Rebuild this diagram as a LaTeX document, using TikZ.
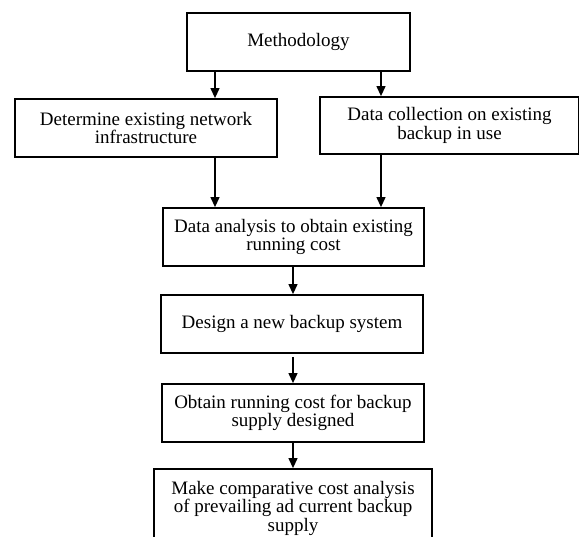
\documentclass[tikz,border=0pt]{standalone}
\usepackage{fontspec}
\setmainfont{Liberation Serif}
\usetikzlibrary{arrows.meta}
\begin{document}
\begin{tikzpicture}[x=1pt,y=-1pt,
  box/.style={draw,line width=1.8pt,rectangle,align=center,inner sep=0pt,
    font=\fontsize{19}{18.5}\selectfont},
  arr/.style={line width=1.2pt,-{Triangle[length=10pt,width=9pt]}}]
\useasboundingbox (0,0) rectangle (579,537);
\fill[white] (0,0) rectangle (579,537);
\node[box,minimum width=223pt,minimum height=58pt] (meth) at (298.5,42) {Methodology};
\node[box,minimum width=262pt,minimum height=58pt] (det) at (146,128) {Determine existing network\\infrastructure};
\node[box,minimum width=259pt,minimum height=57pt] (coll) at (449.5,125.5) {Data collection on existing\\backup in use};
\node[box,minimum width=261pt,minimum height=58pt] (anal) at (293.5,237) {Data analysis to obtain existing\\running cost};
\node[box,minimum width=262pt,minimum height=58pt] (des) at (292,324) {Design a new backup system};
\node[box,minimum width=262pt,minimum height=58pt] (obt) at (293,413) {Obtain running cost for backup\\supply designed};
\node[box,minimum width=278pt,minimum height=78pt] (make) at (293,508) {Make comparative cost analysis\\of prevailing ad current backup\\supply};
\coordinate (cL) at (215,0);
\coordinate (cR) at (381,0);
\coordinate (cM) at (293,0);
\draw[arr] (meth.south -| cL) -- (det.north -| cL);
\draw[arr] (meth.south -| cR) -- (coll.north -| cR);
\draw[arr] (det.south -| cL) -- (anal.north -| cL);
\draw[arr] (coll.south -| cR) -- (anal.north -| cR);
\draw[arr] (anal.south -| cM) -- (des.north -| cM);
\draw[arr] ([yshift=-3pt]des.south -| cM) -- (obt.north -| cM);
\draw[arr] (obt.south -| cM) -- (make.north -| cM);
\end{tikzpicture}
\end{document}
